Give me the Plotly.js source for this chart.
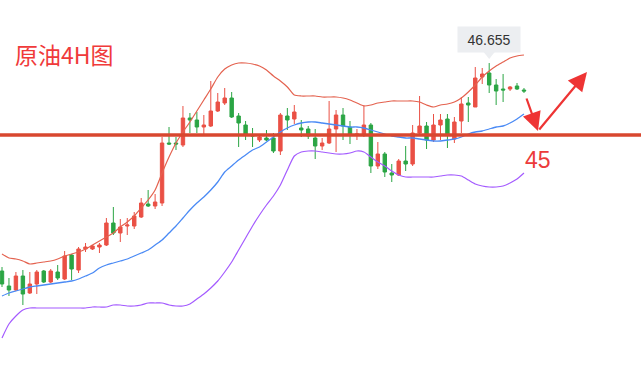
<!DOCTYPE html>
<html>
<head>
<meta charset="utf-8">
<script src="https://cdn.plot.ly/plotly-3.0.1.min.js"></script>
<style>html,body{margin:0;padding:0;background:#fff;}#chart{width:641px;height:378px;}</style>
</head>
<body>
<div id="chart"></div>
<script>
// Crude oil 4H candles (price)
const open = [41.872,41.527,41.435,41.757,41.366,41.573,41.872,41.619,41.849,41.688,
42.240,41.895,42.378,42.378,42.424,42.470,42.976,42.746,42.907,42.907,
43.114,43.413,43.367,43.436,44.816,44.816,44.770,45.391,45.345,45.184,
45.207,45.552,45.736,45.851,45.437,45.230,45.000,44.885,44.931,44.931,
44.632,45.437,45.368,45.161,45.138,44.931,44.747,44.816,45.138,45.460,
45.184,45.000,45.000,45.230,44.287,44.563,44.126,44.080,44.402,44.333,
45.046,45.207,44.885,45.230,45.368,44.908,45.322,45.736,45.644,46.334,
46.426,46.150,46.058,46.058,46.127,46.035];
const high = [41.964,41.711,41.849,41.895,41.849,41.895,41.895,41.918,42.010,42.332,
42.263,42.424,42.516,42.470,42.516,43.091,43.344,43.068,43.091,43.229,
43.551,43.735,43.643,44.954,45.184,44.954,45.667,45.506,45.529,45.460,
46.242,45.966,46.081,45.989,45.506,45.322,45.161,44.977,45.115,45.046,
45.506,45.621,45.690,45.345,45.207,45.138,44.931,45.782,45.575,45.621,
45.322,45.138,45.690,45.276,44.839,44.609,44.333,44.448,44.747,45.230,
45.897,45.299,45.483,45.483,45.483,45.414,45.874,45.874,46.564,46.541,
46.655,46.288,46.403,46.127,46.196,46.081];
const low = [41.504,41.297,41.412,41.090,41.343,41.343,41.596,41.596,41.665,41.665,
41.665,41.826,42.309,42.355,42.286,42.447,42.700,42.539,42.700,42.838,
43.091,43.344,43.298,43.367,44.770,44.655,44.724,45.046,45.046,45.023,
45.184,45.529,45.690,45.391,44.724,44.885,44.724,44.839,44.862,44.586,
44.540,45.115,45.253,44.954,44.908,44.448,44.655,44.793,44.609,44.885,
44.793,44.885,44.954,44.126,44.218,44.034,43.919,44.057,44.172,44.287,
45.023,44.678,44.839,44.885,44.701,44.816,45.046,45.299,45.644,46.173,
45.966,45.690,45.759,46.012,46.035,45.966];
const close = [41.573,41.435,41.757,41.343,41.573,41.849,41.619,41.872,41.711,42.217,
41.918,42.378,42.424,42.447,42.470,42.976,42.746,42.884,42.930,43.137,
43.436,43.367,43.459,44.816,44.793,44.793,45.391,45.345,45.184,45.230,
45.552,45.759,45.851,45.414,45.276,45.000,44.977,44.954,44.885,44.632,
45.460,45.345,45.529,45.115,44.977,44.747,44.816,45.138,45.460,45.207,
45.000,45.023,45.230,44.287,44.563,44.149,44.080,44.402,44.333,45.046,
45.207,44.885,45.230,45.345,45.000,45.299,45.713,45.690,46.311,46.403,
46.150,46.012,46.035,46.104,46.058,46.012];
// Bollinger bands
const upper = [42.263,42.171,42.148,42.102,42.033,42.056,42.079,42.102,42.148,42.217,
42.263,42.309,42.378,42.470,42.562,42.654,42.746,42.884,42.999,43.137,
43.321,43.505,43.735,44.126,44.494,44.816,45.069,45.299,45.552,45.805,
46.058,46.334,46.518,46.610,46.656,46.656,46.633,46.587,46.495,46.357,
46.242,46.104,45.920,45.897,45.897,45.897,45.874,45.874,45.874,45.851,
45.805,45.736,45.667,45.690,45.736,45.759,45.782,45.782,45.782,45.782,
45.759,45.690,45.644,45.690,45.713,45.759,45.851,45.989,46.150,46.334,
46.472,46.587,46.679,46.771,46.817,46.840];
const mid = [41.297,41.366,41.412,41.458,41.504,41.527,41.550,41.573,41.596,41.619,
41.642,41.688,41.757,41.826,41.941,42.010,42.056,42.102,42.148,42.217,
42.286,42.355,42.470,42.585,42.746,42.907,43.091,43.275,43.436,43.574,
43.735,43.919,44.149,44.287,44.425,44.540,44.655,44.724,44.839,44.954,
45.069,45.161,45.230,45.276,45.299,45.299,45.276,45.253,45.230,45.207,
45.184,45.184,45.161,45.115,45.069,45.023,44.977,44.954,44.931,44.931,
44.908,44.885,44.862,44.862,44.885,44.908,44.954,45.023,45.069,45.092,
45.138,45.184,45.207,45.276,45.368,45.483];
const lower = [40.331,40.653,40.837,40.975,41.021,41.021,41.021,41.021,41.021,41.021,
41.021,41.021,41.021,41.044,41.044,41.044,41.090,41.090,41.067,41.067,
41.090,41.136,41.136,41.136,41.090,41.067,41.067,41.113,41.228,41.343,
41.481,41.642,41.849,42.079,42.355,42.631,42.907,43.160,43.390,43.597,
43.850,44.195,44.517,44.609,44.632,44.632,44.609,44.586,44.563,44.563,
44.586,44.632,44.609,44.494,44.379,44.287,44.172,44.080,44.034,44.034,
44.034,44.034,44.034,44.057,44.080,44.080,44.057,43.965,43.873,43.827,
43.804,43.804,43.827,43.896,43.988,44.126];
const supportLevel = 45;
const titleText = '原油4H图';
const supportText = '45';

const x = Array.from(open, (_, i) => i);
const hiIdx = high.indexOf(Math.max(...high));
const hiVal = high[hiIdx];

const bandLine = (y, color, w) => ({
  type: 'scatter', mode: 'lines', x: x, y: y,
  line: {color: color, width: w, shape: 'spline', smoothing: 0.6},
  hoverinfo: 'skip'
});

const traces = [
  bandLine(upper, '#e4624f', 1.2),
  bandLine(lower, '#a45bff', 1.2),
  bandLine(mid, '#4a8af5', 1.3),
  {
    type: 'candlestick', x: x, open: open, high: high, low: low, close: close,
    increasing: {line: {color: '#ea5045', width: 1}, fillcolor: '#ea5045'},
    decreasing: {line: {color: '#2ba544', width: 1}, fillcolor: '#2ba544'},
    whiskerwidth: 0, hoverinfo: 'skip'
  }
];

const W = 641, H = 378;
const px2paperY = p => 1 - p / H;
const unitsPerPx = 92.1 / W;

const layout = {
  width: W, height: H,
  margin: {l: 0, r: 0, t: 0, b: 0, pad: 0},
  paper_bgcolor: '#ffffff', plot_bgcolor: '#ffffff',
  showlegend: false,
  xaxis: {range: [-0.287, 91.813], visible: false, rangeslider: {visible: false}, fixedrange: true},
  yaxis: {range: [39.411, 48.105], visible: false, fixedrange: true},
  shapes: [
    {type: 'line', xref: 'paper', x0: 0, x1: 1, yref: 'y', y0: supportLevel, y1: supportLevel,
     line: {color: '#d8472f', width: 3.5}},
    {type: 'path', xref: 'x', yref: 'paper',
     path: 'M ' + (hiIdx - 6 * unitsPerPx) + ',' + px2paperY(51.5) +
           ' L ' + (hiIdx + 6 * unitsPerPx) + ',' + px2paperY(51.5) +
           ' L ' + hiIdx + ',' + px2paperY(59) + ' Z',
     fillcolor: '#eceef1', line: {width: 0}}
  ],
  annotations: [
    {text: titleText, xref: 'paper', yref: 'paper', x: 13 / W, y: px2paperY(54),
     xanchor: 'left', yanchor: 'middle', showarrow: false,
     font: {family: 'Noto Sans CJK SC, sans-serif', size: 23, color: '#f03a3a'}},
    {text: hiVal.toFixed(3), xref: 'x', yref: 'paper', x: hiIdx, y: px2paperY(39.5),
     xanchor: 'center', yanchor: 'middle', showarrow: false,
     width: 62, height: 25, bgcolor: '#eceef1', borderpad: 0,
     font: {family: 'Liberation Sans, Arial, sans-serif', size: 14, color: '#333333'}},
    {text: supportText, xref: 'paper', yref: 'paper', x: 523 / W, y: px2paperY(160),
     xanchor: 'left', yanchor: 'middle', showarrow: false,
     font: {family: 'Liberation Sans, Arial, sans-serif', size: 23, color: '#ec3b3b'}},
    {text: '', xref: 'paper', yref: 'paper', x: 538 / W, y: px2paperY(131),
     axref: 'pixel', ayref: 'pixel', ax: -12, ay: -34, showarrow: true,
     arrowhead: 2, arrowsize: 1.7, arrowwidth: 2.2, arrowcolor: '#ee3434'},
    {text: '', xref: 'paper', yref: 'paper', x: 587 / W, y: px2paperY(72),
     axref: 'pixel', ayref: 'pixel', ax: -49, ay: 59, showarrow: true,
     arrowhead: 2, arrowsize: 1.7, arrowwidth: 2.2, arrowcolor: '#ee3434'}
  ]
};

Plotly.newPlot('chart', traces, layout, {staticPlot: true, displayModeBar: false});
</script>
</body>
</html>
